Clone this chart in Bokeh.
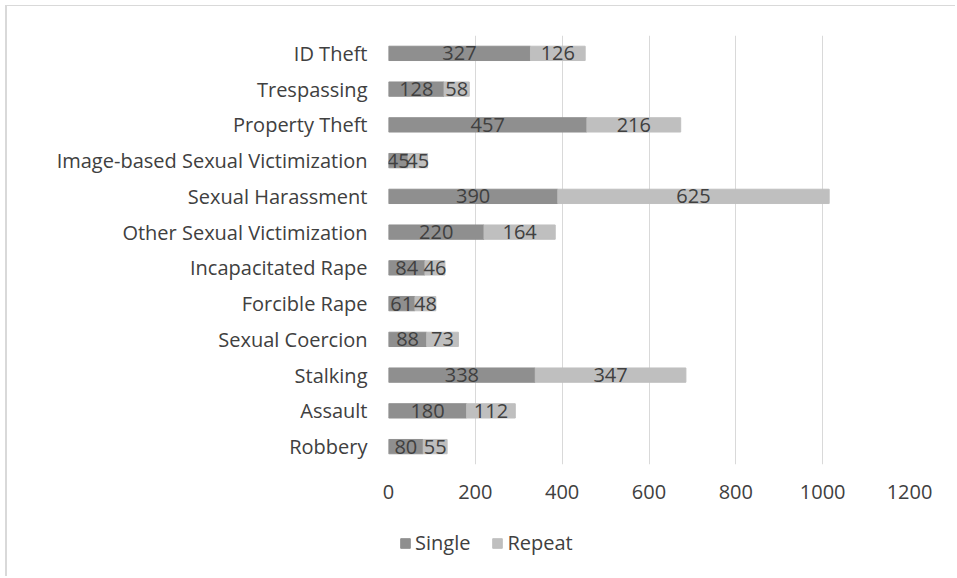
from bokeh.plotting import figure
from bokeh.layouts import column
from bokeh.models import ColumnDataSource, Range1d, FactorRange, Legend, LegendItem, LabelSet
from bokeh.core.properties import value
from bokeh.embed import file_html
from bokeh.resources import INLINE

categories = ["ID Theft", "Trespassing", "Property Theft", "Image-based Sexual Victimization",
              "Sexual Harassment", "Other Sexual Victimization", "Incapacitated Rape",
              "Forcible Rape", "Sexual Coercion", "Stalking", "Assault", "Robbery"]
single = [327, 128, 457, 45, 390, 220, 84, 61, 88, 338, 180, 80]
repeat = [126, 58, 216, 45, 625, 164, 46, 48, 73, 347, 112, 55]
series = ["Single", "Repeat"]
x_ticks = [0, 200, 400, 600, 800, 1000, 1200]

FONT = "Open Sans"
TXT = "#404040"
C_SINGLE = "#8f8f8f"
C_REPEAT = "#bfbfbf"

src = ColumnDataSource(dict(
    cat=categories,
    single=single,
    repeat=repeat,
    total=[s + r for s, r in zip(single, repeat)],
    smid=[s / 2 for s in single],
    rmid=[s + r / 2 for s, r in zip(single, repeat)],
    slab=[str(v) for v in single],
    rlab=[str(v) for v in repeat],
))

p = figure(frame_width=521, frame_height=429, output_backend="svg", toolbar_location=None,
           x_range=Range1d(0, 1200), y_range=FactorRange(*list(reversed(categories))),
           min_border_left=381, min_border_right=46, min_border_top=29, min_border_bottom=50,
           outline_line_color=None)

r1 = p.hbar(y="cat", left=0, right="single", height=0.4, color=C_SINGLE, source=src)
r2 = p.hbar(y="cat", left="single", right="total", height=0.4, color=C_REPEAT, source=src)

for col, xcol in (("slab", "smid"), ("rlab", "rmid")):
    p.add_layout(LabelSet(x=xcol, y="cat", text=col, source=src, text_align="center",
                          text_baseline="middle", text_color=TXT, text_font=value(FONT),
                          text_font_size="20px"))

p.xaxis.ticker = x_ticks
p.xgrid.ticker = x_ticks
p.xgrid.grid_line_color = "#d9d9d9"
p.xgrid.grid_line_width = 1
p.ygrid.grid_line_color = None

for ax in (p.xaxis, p.yaxis):
    ax.axis_line_color = None
    ax.major_tick_line_color = None
    ax.minor_tick_line_color = None
    ax.major_tick_out = 0
    ax.major_tick_in = 0
    ax.major_label_text_font = FONT
    ax.major_label_text_font_size = "20px"
    ax.major_label_text_color = TXT
p.xaxis.major_label_standoff = 20
p.yaxis.major_label_standoff = 21

# legend strip below the chart (its frame is aligned with the chart's frame)
lg = figure(width=948, height=62, output_backend="svg", toolbar_location=None,
            x_range=Range1d(0, 1), y_range=Range1d(0, 1),
            min_border=0, outline_line_color=None)
lg.axis.visible = False
lg.grid.visible = False
swatch = ColumnDataSource(dict(y=[float("nan")], l=[0.0], r=[0.0]))
g1 = lg.hbar(y="y", left="l", right="r", height=1, color=C_SINGLE, source=swatch)
g2 = lg.hbar(y="y", left="l", right="r", height=1, color=C_REPEAT, source=swatch)

legend = Legend(items=[LegendItem(label=series[0], renderers=[g1]),
                       LegendItem(label=series[1], renderers=[g2])],
                orientation="horizontal", location=(11, 20),
                glyph_width=12, glyph_height=12, label_height=20, label_standoff=4,
                spacing=21, padding=0, margin=0, border_line_color=None,
                background_fill_alpha=0, label_text_font=FONT,
                label_text_font_size="20px", label_text_color=TXT)
lg.add_layout(legend, "center")

layout = column(p, lg, spacing=0)
layout.styles = {"margin-left": "5px", "margin-top": "5px",
                 "border-left": "2px solid #d9d9d9", "border-top": "1px solid #d9d9d9"}

open("out.html", "w").write(file_html(layout, INLINE))
